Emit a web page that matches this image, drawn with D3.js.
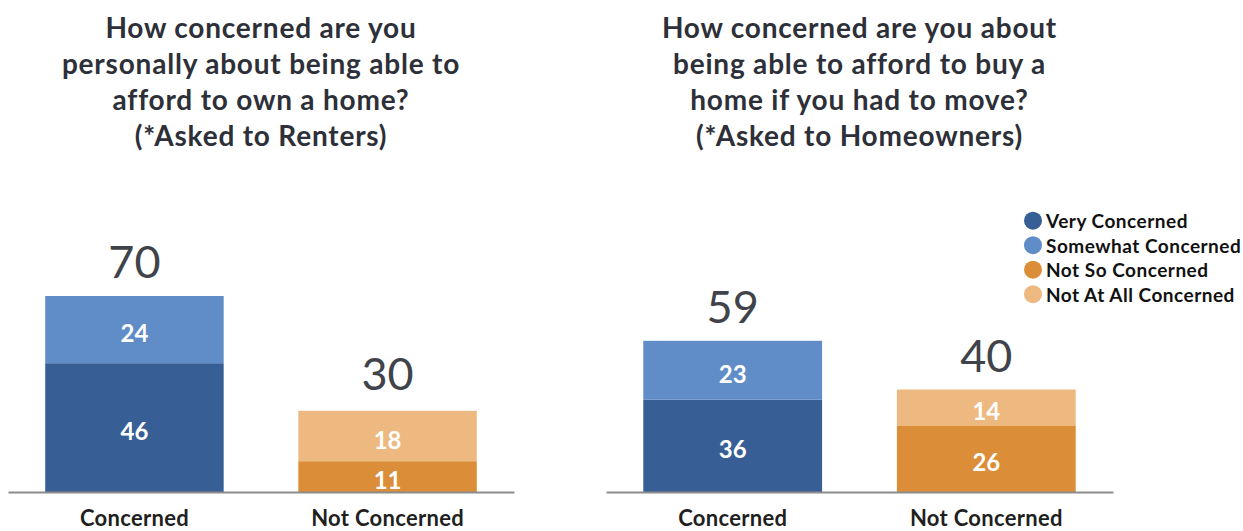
<!DOCTYPE html>
<html>
<head>
<meta charset="utf-8">
<script src="https://cdn.jsdelivr.net/npm/d3@7"></script>
<style>
  html, body { margin: 0; padding: 0; background: #fff; }
  svg { display: block; }
  text { font-family: Lato, "Open Sans", sans-serif; }
</style>
</head>
<body>
<svg id="chart" width="1243" height="531"></svg>
<script>
// ---- data ----
const categories = ["Concerned", "Not Concerned"];
const seriesNames = ["Very Concerned", "Somewhat Concerned", "Not So Concerned", "Not At All Concerned"];
const seriesColors = ["#375f95", "#608dc8", "#db8e37", "#eeb980"];

// Renters chart: values per category
const rentersVery       = [46, 0];
const rentersSomewhat   = [24, 0];
const rentersNotSo      = [0, 11];
const rentersNotAtAll   = [0, 18];
const rentersTotals     = [70, 30];

// Homeowners chart
const ownersVery        = [36, 0];
const ownersSomewhat    = [23, 0];
const ownersNotSo       = [0, 26];
const ownersNotAtAll    = [0, 14];
const ownersTotals      = [59, 40];

const titleRenters = ["How concerned are you", "personally about being able to", "afford to own a home?", "(*Asked to Renters)"];
const titleOwners  = ["How concerned are you about", "being able to afford to buy a", "home if you had to move?", "(*Asked to Homeowners)"];

// ---- layout ----
const svg = d3.select("#chart");
const baseline = 492;

const panels = [
  { x0: 8,   x1: 514,  top: 268, yMax: 80, title: titleRenters,
    series: [rentersVery, rentersSomewhat, rentersNotSo, rentersNotAtAll], totals: rentersTotals },
  { x0: 606, x1: 1113, top: 287, yMax: 80, title: titleOwners,
    series: [ownersVery, ownersSomewhat, ownersNotSo, ownersNotAtAll], totals: ownersTotals }
];

panels.forEach(p => {
  const g = svg.append("g");
  const x = d3.scaleBand().domain(categories).range([p.x0, p.x1])
    .paddingInner(0.295).paddingOuter(0.147);
  const y = d3.scaleLinear().domain([0, p.yMax]).range([baseline, p.top]);

  const rows = categories.map((c, i) => {
    const r = { cat: c };
    seriesNames.forEach((s, k) => r[s] = p.series[k][i]);
    return r;
  });
  const stacked = d3.stack().keys(seriesNames)(rows);

  stacked.forEach((layer, k) => {
    layer.forEach((d, i) => {
      const v = d[1] - d[0];
      if (v <= 0) return;
      g.append("rect")
        .attr("x", x(categories[i]))
        .attr("width", x.bandwidth())
        .attr("y", y(d[1]))
        .attr("height", y(d[0]) - y(d[1]))
        .attr("fill", seriesColors[k]);
      g.append("text")
        .attr("x", x(categories[i]) + x.bandwidth() / 2)
        .attr("y", (y(d[0]) + y(d[1])) / 2 + 3)
        .attr("text-anchor", "middle")
        .attr("dominant-baseline", "central")
        .attr("fill", "#ffffff")
        .attr("font-weight", "bold")
        .attr("font-size", 24)
        .text(v);
    });
  });

  // totals
  categories.forEach((c, i) => {
    g.append("text")
      .attr("x", x(c) + x.bandwidth() / 2)
      .attr("y", y(p.totals[i]) - 18)
      .attr("text-anchor", "middle")
      .attr("fill", "#404349")
      .attr("font-size", 45)
      .text(p.totals[i]);
  });

  // axis
  const axis = d3.axisBottom(x).tickSize(0).tickPadding(0);
  const ag = g.append("g").attr("transform", `translate(0,${baseline})`).call(axis);
  ag.select(".domain").attr("stroke", "#8c8c8c").attr("stroke-width", 2);
  ag.selectAll(".tick text")
    .attr("y", 34)
    .attr("dy", 0)
    .attr("fill", "#1f1f1f")
    .attr("font-weight", "bold")
    .attr("font-size", 22)
    .attr("letter-spacing", 0.3)
    .attr("font-family", "Lato, 'Open Sans', sans-serif");

  // title
  const cx = (p.x0 + p.x1) / 2;
  const t = g.append("text")
    .attr("text-anchor", "middle")
    .attr("fill", "#2d3038")
    .attr("font-weight", "bold")
    .attr("font-size", 28)
    .attr("letter-spacing", 0.8);
  p.title.forEach((line, j) => {
    t.append("tspan").attr("x", cx).attr("y", 38 + j * 36).text(line);
  });
});

// legend
const legend = svg.append("g");
seriesNames.forEach((s, k) => {
  const yy = 220.7 + k * 24.5;
  legend.append("circle").attr("cx", 1033).attr("cy", yy).attr("r", 9).attr("fill", seriesColors[k]);
  legend.append("text").attr("x", 1046).attr("y", yy)
    .attr("dominant-baseline", "central")
    .attr("font-weight", "bold")
    .attr("font-size", 19)
    .attr("letter-spacing", 0.5)
    .attr("fill", "#111")
    .text(s);
});
</script>
</body>
</html>
